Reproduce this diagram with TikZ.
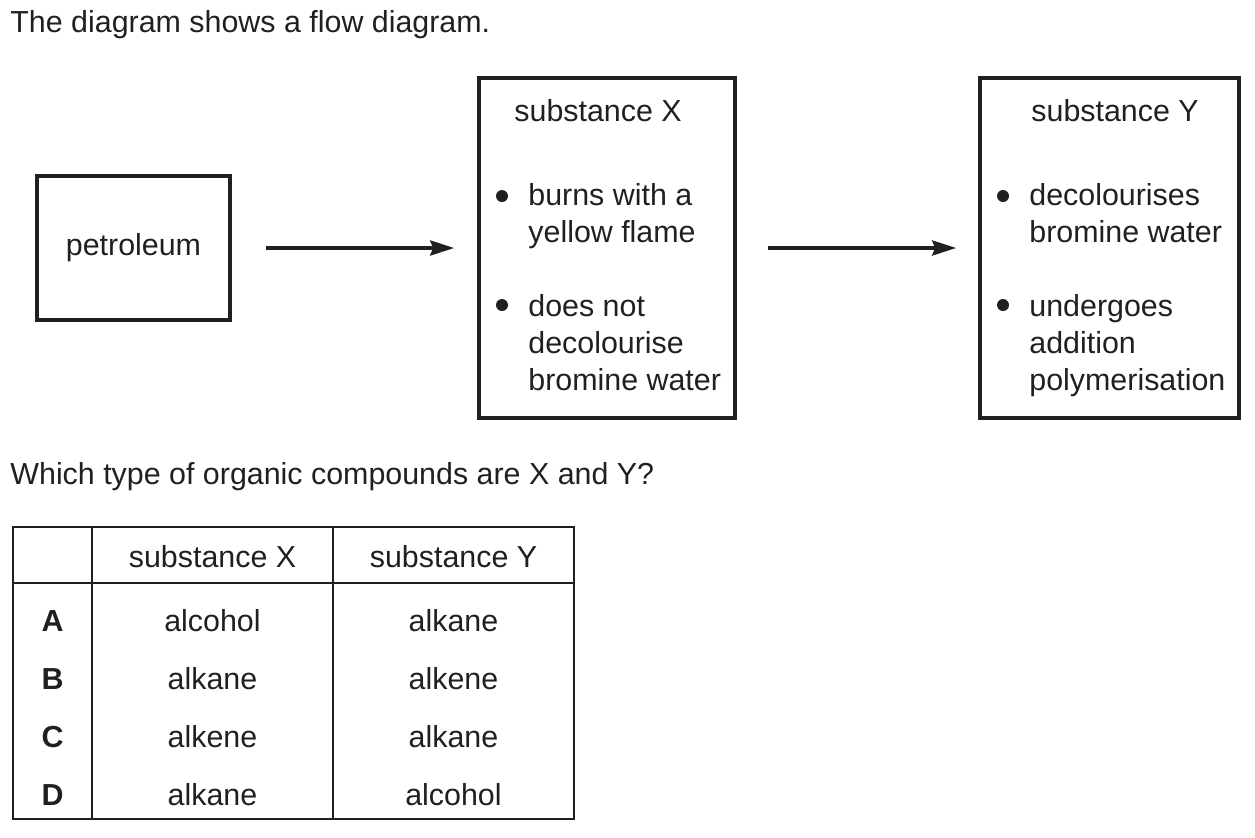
\documentclass[tikz,border=0pt]{standalone}
\usepackage{fontspec}
\setmainfont{Liberation Sans}
\usetikzlibrary{arrows.meta}
\definecolor{ink}{RGB}{35,31,32}

\begin{document}
\begin{tikzpicture}[x=0.5pt,y=-0.5pt,color=ink,font=\fontsize{15.2}{18.5}\selectfont,
		>={Stealth[length=12pt,width=7.5pt,inset=1.5pt]},
		box/.style={draw,line width=1.8pt,inner sep=0pt},
		txt/.style={anchor=base west,inner sep=0pt},
		dot/.style={circle,fill,inner sep=0pt,minimum size=6pt},
		cell/.style={anchor=base,inner sep=0pt},
		flow/.style={->,line width=1.75pt}]
		\useasboundingbox (0,0) rectangle (1255,837);
		% question
		\node[txt] (title) at (10,32) {The diagram shows a flow diagram.};
		
		% flow boxes
		\node[box,minimum width=96.5pt,minimum height=72pt] (petrol) at (133.5,248) {petroleum};
		\node[box,minimum width=128pt,minimum height=170pt] (subx) at (607,248) {};
		\node[box,minimum width=129.5pt,minimum height=170pt] (suby) at (1109.5,248) {};
		
		% substance X
		\node[txt] (xname) at (514,121) {substance X};
		\node[dot] (xb1) at (502,196) {};
		\node[txt] (xt1) at (528,205) {\begin{tabular}[t]{@{}l@{}}burns with a\\yellow flame\end{tabular}};
		\node[dot] (xb2) at (502,305) {};
		\node[txt] (xt2) at (528,316) {\begin{tabular}[t]{@{}l@{}}does not\\decolourise\\bromine water\end{tabular}};
		
		% substance Y
		\node[txt] (yname) at (1031,121) {substance Y};
		\node[dot] (yb1) at (1003,196) {};
		\node[txt] (yt1) at (1029,205) {\begin{tabular}[t]{@{}l@{}}decolourises\\bromine water\end{tabular}};
		\node[dot] (yb2) at (1003,305) {};
		\node[txt] (yt2) at (1029,316) {\begin{tabular}[t]{@{}l@{}}undergoes\\addition\\polymerisation\end{tabular}};
		
		\draw[flow,shorten <=17pt,shorten >=11.5pt] (petrol) -- (subx);
		\draw[flow,shorten <=15.5pt,shorten >=11pt] (subx) -- (suby);
		
		\node[txt] (ask) at (10,484) {Which type of organic compounds are X and Y?};
		
		% answer table
		\coordinate (tl) at (13,527);
		\coordinate (br) at (574,819);
		\draw[line width=1.25pt] (tl) rectangle (br);
		\draw[line width=1.25pt] (13,583) -- (574,583) (92,527) -- (92,819) (333,527) -- (333,819);
		\node[cell] (hx) at (212.5,567) {substance X};
		\node[cell] (hy) at (453.5,567) {substance Y};
		
		\node[cell] (ra) at (52.5,631) {\textbf{A}};
		\node[cell] (ax) at (212.5,631) {alcohol};
		\node[cell] (ay) at (453.5,631) {alkane};
		\node[cell] (rb) at (52.5,689) {\textbf{B}};
		\node[cell] (bx) at (212.5,689) {alkane};
		\node[cell] (by) at (453.5,689) {alkene};
		\node[cell] (rc) at (52.5,747) {\textbf{C}};
		\node[cell] (cx) at (212.5,747) {alkene};
		\node[cell] (cy) at (453.5,747) {alkane};
		\node[cell] (rd) at (52.5,805) {\textbf{D}};
		\node[cell] (dx) at (212.5,805) {alkane};
		\node[cell] (dy) at (453.5,805) {alcohol};
		
		\end{tikzpicture}
\end{document}
